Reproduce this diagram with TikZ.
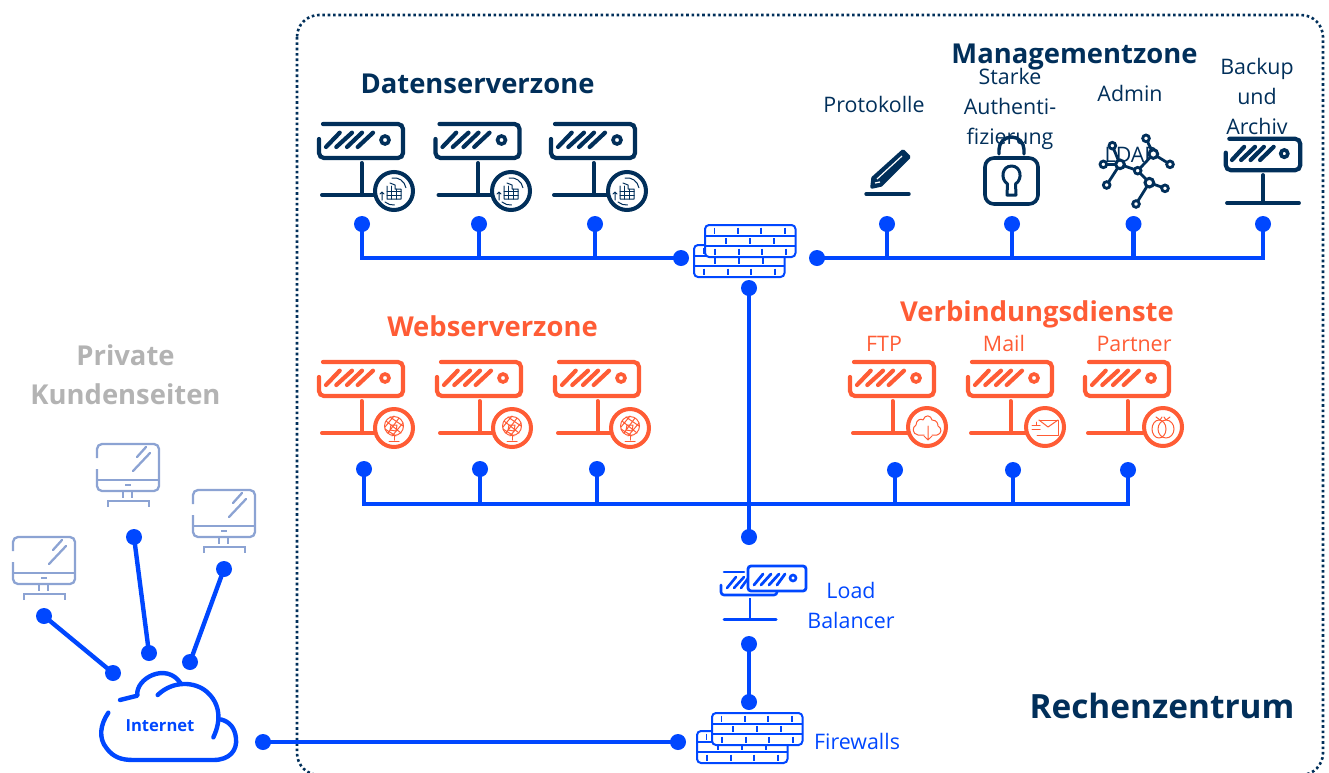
\documentclass[tikz,border=0pt]{standalone}
\usepackage{fontspec}
\setmainfont{Open Sans}
\definecolor{navy}{HTML}{012F5A}
\definecolor{orng}{HTML}{FF5C35}
\definecolor{netblue}{HTML}{0047FF}
\definecolor{greyt}{HTML}{B3B3B3}
\definecolor{mon}{HTML}{8CA3D3}
\tikzset{
  txt/.style={inner sep=0pt,align=center,font=\fontsize{21.4}{30}\selectfont},
  title/.style={inner sep=0pt,align=center,font=\fontsize{27.4}{39}\selectfont\bfseries},
  dot/.style={circle,fill=netblue,draw=none,inner sep=0pt,minimum size=16pt},
  conn/.style={draw=netblue,line width=4.4pt,line join=miter},
  ico/.style={line width=3.4pt,line cap=round,line join=round},
  tiny/.style={line width=1pt,line cap=round,line join=round},
}
% server box body
\newcommand{\srvbody}[1]{%
  \draw[#1,line width=4.2pt,line cap=round,rounded corners=5pt] (2,17)--(2,36)--(86,36)--(86,2)--(6,2);
  \foreach \a/\b in {9/22.7,19.3/35,30/45,40.7/56}{\draw[#1,line width=4.2pt,line cap=round] (\a,25)--(\b,10.7);}
  \draw[#1,line width=3.6pt] (68,18) circle (4);
}
% server with badge: x,y,colour,badge dx,badge dy,icon
\newcommand{\srv}[6]{%
  \begin{scope}[shift={(#1,#2)}]
    \srvbody{#3}
    \draw[#3,ico,line width=4pt] (44.5,41)--(44.5,73);
    \draw[#3,ico,line width=4pt] (5,73)--(60,73);
    \begin{scope}[shift={(#4,#5)}]
      \draw[#3,line width=4pt,fill=white] (0,0) circle (19);
      #6
    \end{scope}
  \end{scope}}
\newcommand{\dbicon}{%
  \draw[navy,tiny] (-7,-5)--(-7,8)--(7,8)--(7,-2)--(1,-2)--(1,-6)--(-4,-8);
  \draw[navy,tiny] (-7,0)--(7,0) (-7,4)--(7,4) (-3,-5)--(-3,8) (2,-2)--(2,8);
  \draw[navy,tiny] (-12,9)--(-12,1) (-14,3)--(-12,1)--(-10,3);
  \draw[navy,tiny] (-2,-13) arc (260:350:12);
  \draw[navy,tiny] (-9,11) arc (130:85:13);}
\newcommand{\globeicon}{%
  \draw[orng,tiny] (0,-2) circle (9.5);
  \draw[orng,tiny] (-8,-7)--(7,5) (-4,-11)--(9,-2) (-9,1)--(2,8) (5,-10)--(-6,5) (0,-12)--(-9,-1) (9,-5)--(-2,8);
  \draw[orng,tiny] (-3,-3)--(3,-3)--(2,3)--(-4,2)--cycle;
  \draw[orng,tiny] (0,8)--(0,12) (-5,13)--(5,13);}
\newcommand{\cloudicon}{%
  \draw[orng,tiny] (-3,8)--(-9,8) .. controls (-15,7) and (-15,0) .. (-11,-2) .. controls (-11,-7) and (-6,-9) .. (-4,-7) .. controls (-2,-13) and (4,-12) .. (5,-7) .. controls (10,-7) and (11,-3) .. (11,-1) .. controls (15,1) and (15,7) .. (10,8)--(5,8);
  \draw[orng,tiny] (1,-1)--(1,13) (-3,9)--(1,13)--(5,9);}
\newcommand{\mailicon}{%
  \draw[orng,tiny] (-6,-7)--(13,-7)--(13,8)--(-8,8);
  \draw[orng,tiny] (-6,-7)--(3,0)--(13,-7);
  \draw[orng,tiny] (-13,-2)--(-5,-2) (-13,2)--(-5,2) (-9,-5)--(-9,-2);}
\newcommand{\bagicon}{%
  \draw[orng,tiny] (-4,2) ellipse (7 and 9);
  \draw[orng,tiny] (3,2) ellipse (8 and 9);
  \draw[orng,tiny] (-7,-10)--(-3,-7)--(-1,-10) (1,-10)--(3,-7)--(7,-10);}
% firewall one block
\newcommand{\brick}[2]{%
  \begin{scope}[shift={(#1,#2)}]
    \draw[netblue,line width=2pt,fill=white,rounded corners=4pt] (0,0) rectangle (90.5,32);
    \draw[netblue,line width=2pt] (0,10.6)--(90.5,10.6) (0,21.3)--(90.5,21.3);
    \foreach \a in {9.5,33,56,80}{\draw[netblue,line width=1.7pt] (\a,2.5)--(\a,8.5);}
    \foreach \a in {21,45,69}{\draw[netblue,line width=1.7pt] (\a,13)--(\a,19);}
    \foreach \a in {10,34,57,81}{\draw[netblue,line width=1.7pt] (\a,23.5)--(\a,29.5);}
  \end{scope}}
\newcommand{\monitor}[2]{%
  \begin{scope}[shift={(#1,#2)},mon,line width=2.3pt]
    \draw[rounded corners=5pt] (0,14)--(0,0)--(62,0)--(62,47)--(0,47)--(0,25);
    \draw (0,36)--(62,36);
    \draw (28,41)--(34,41);
    \draw (26,47)--(26,54) (35,47)--(35,54);
    \draw (11,63)--(11,57)--(52,57)--(52,63);
    \draw[line cap=round] (40,13)--(49,3) (36,27)--(53,9);
  \end{scope}}
\begin{document}
\begin{tikzpicture}[x=1pt,y=-1pt]
\useasboundingbox (0,0) rectangle (1329,772);
% frame
\begin{scope}
  \clip (0,0) rectangle (1329,772);
  \draw[navy,line width=2.6pt,dash pattern=on 2.6pt off 2.75pt,rounded corners=22pt] (297,15) rectangle (1323,775);
\end{scope}
% titles
\node[title,text=navy] (tDaten) at (477.5,84) {Datenserverzone};
\node[title,text=navy] (tMgmt) at (1074.5,57) {Managementzone};
\node[title,text=orng] (tWeb) at (492.5,326) {Webserverzone};
\node[title,text=orng] (tVerb) at (1037,314) {Verbindungsdienste};
\node[title,text=greyt] (tPriv) at (125.5,375) {Private\\Kundenseiten};
\node[title,text=navy,font=\fontsize{33.4}{39}\selectfont\bfseries] (tRZ) at (1162,706) {Rechenzentrum};
% labels
\node[txt,text=navy] (lProt) at (874,104) {Protokolle};
\node[txt,text=navy] (lStark) at (1010,109) {Starke\\Authenti-\\fizierung};
\node[txt,text=navy] (lAdmin) at (1130,93) {Admin};
\node[txt,text=navy] (lBack) at (1257,96) {Backup\\und\\Archiv};
\node[txt,text=navy] (lLdap) at (1131,155) {LDAP};
\node[txt,text=orng] (lFtp) at (884,343.5) {FTP};
\node[txt,text=orng] (lMail) at (1004,343.5) {Mail};
\node[txt,text=orng] (lPart) at (1134,344) {Partner};
\node[txt,text=netblue] (lLB) at (851,605) {Load\\Balancer};
\node[txt,text=netblue] (lFw) at (857,741.5) {Firewalls};
% Daten servers
\srv{317}{122}{navy}{77}{69}{\dbicon}
\srv{433.5}{122}{navy}{77.5}{69}{\dbicon}
\srv{549}{122}{navy}{78}{69}{\dbicon}
% Web servers
\srv{317}{360}{orng}{77}{68}{\globeicon}
\srv{435}{360}{orng}{77}{68}{\globeicon}
\srv{553}{360}{orng}{77}{68}{\globeicon}
% connection servers
\srv{848}{360}{orng}{79}{67}{\cloudicon}
\srv{966}{360}{orng}{79}{67}{\mailicon}
\srv{1083}{360}{orng}{80}{67}{\bagicon}
% pencil
\draw[navy,ico,fill=navy] (872,187)--(873,178)--(903,151)--(909,157)--(881,185)--cycle;
\draw[white,line width=1.2pt] (877,179)--(902,156) (875,183)--(880,182);
\draw[navy,ico] (866,194)--(909,194);
% lock
\draw[navy,ico,line width=3.6pt,rounded corners=9pt] (985,158) rectangle (1038,204);
\draw[navy,ico] (999,154)--(999,149.5) arc (180:360:12.5)--(1024,154);
\draw[navy,ico,line width=3pt] (1007,195)--(1016,195)--(1015.5,184) .. controls (1023,179) and (1021,166) .. (1011.5,166) .. controls (1002,166) and (1000,179) .. (1007.5,184)--cycle;
% LDAP network
\begin{scope}[shift={(1090,130)},xscale=1/3,yscale=1/3]
  \foreach \a/\b/\c/\d in {168/25/190/72,67/47/90/103,40/103/90/103,190/72/240/103,190/72/143/122,90/103/143/122,90/103/50/165,143/122/178/158,178/158/225/175,178/158/138/222}{
    \draw[navy,line width=2.8pt] (\a,\b)--(\c,\d);}
  \foreach \a/\b in {168/25,67/47,40/103,240/103,50/165,225/175,138/222,143/122}{
    \draw[navy,line width=2.8pt,fill=white] (\a,\b) circle (10);}
  \foreach \a/\b in {190/72,90/103,178/158}{
    \draw[navy,line width=3pt,fill=white] (\a,\b) circle (13);}
\end{scope}
% backup server
\begin{scope}[shift={(1224,137)},xscale=78/88,yscale=35/38]
  \srvbody{navy}
\end{scope}
\draw[navy,ico,line width=3.8pt] (1263,175)--(1263,203);
\draw[navy,ico,line width=3.8pt] (1227,203)--(1299,203);
% firewalls
\brick{694}{245}\brick{705}{225}
\brick{697}{731}\brick{712}{713}
% load balancer
\draw[netblue,line width=2.6pt,line cap=round,rounded corners=3pt] (721,585)--(721,595)--(777,595)--(777,591);
\draw[netblue,line width=2.6pt,line cap=round] (724,572)--(744,572);
\foreach \a/\b in {727/736,734/744,741/749}{\draw[netblue,line width=2.6pt,line cap=round] (\a,588)--(\b,577);}
\draw[netblue,line width=2.8pt,fill=white,rounded corners=3pt] (748,566) rectangle (806,591);
\foreach \a/\b in {754/763,761/771,769/779,777/785}{\draw[netblue,line width=2.8pt,line cap=round] (\a,585)--(\b,574);}
\draw[netblue,line width=2.6pt] (793,578) circle (3);
\draw[netblue,line width=2.6pt] (750,598)--(750,619);
\draw[netblue,line width=3pt,line cap=round] (724,619)--(776,619);
% monitors
\monitor{13}{537}\monitor{97}{444}\monitor{193}{490}
% cloud
\begin{scope}[shift={(0,430)},xscale=1/3,yscale=1/3]
  \draw[netblue,line width=4.4pt,line cap=round,line join=round] (325,848) .. controls (300,885) and (295,925) .. (320,955) .. controls (340,982) and (365,990) .. (400,990)--(640,990) .. controls (690,990) and (712,960) .. (708,925) .. controls (705,895) and (690,875) .. (662,868);
  \draw[netblue,line width=4.4pt,line cap=round,line join=round] (640,922) .. controls (665,870) and (660,820) .. (620,785) .. controls (585,755) and (520,750) .. (473,795);
  \draw[netblue,line width=4.4pt,line cap=round,line join=round] (360,810)--(412,797) .. controls (405,745) and (500,695) .. (542,760);
\end{scope}
\node[inner sep=0pt,text=netblue,font=\fontsize{16.6}{18}\selectfont\bfseries] (lNet) at (160,726) {Internet};
% connectors
\node[dot] (d1) at (362,224) {};
\node[dot] (d2) at (479,224) {};
\node[dot] (d3) at (595,224) {};
\node[dot] (fwL) at (681,258) {};
\node[dot] (fwR) at (817,258) {};
\node[dot] (m1) at (887,224) {};
\node[dot] (m2) at (1012,224) {};
\node[dot] (m3) at (1133.5,224) {};
\node[dot] (m4) at (1263,224) {};
\node[dot] (fwB) at (749,288) {};
\node[dot] (w1) at (364,469) {};
\node[dot] (w2) at (480,469) {};
\node[dot] (w3) at (597,469) {};
\node[dot] (w4) at (895,470) {};
\node[dot] (w5) at (1013,470) {};
\node[dot] (w6) at (1128,470) {};
\node[dot] (hub) at (749,537) {};
\node[dot] (lbB) at (749,644) {};
\node[dot] (fw2T) at (749,702) {};
\node[dot] (fw2L) at (678,742) {};
\node[dot] (netR) at (263,742) {};
\node[dot] (c1) at (44,616) {};
\node[dot] (c2) at (134,537) {};
\node[dot] (c3) at (224,569) {};
\node[dot] (n1) at (113,673) {};
\node[dot] (n2) at (149,653) {};
\node[dot] (n3) at (190,662) {};
\coordinate (webbus) at (749,504);
\draw[conn] (d1.center) |- (fwL.center);
\draw[conn] (d2.center) -- (d2.center |- fwL.center);
\draw[conn] (d3.center) -- (d3.center |- fwL.center);
\draw[conn] (fwR.center) -| (m4.center);
\draw[conn] (m1.center) -- (m1.center |- fwR.center);
\draw[conn] (m2.center) -- (m2.center |- fwR.center);
\draw[conn] (m3.center) -- (m3.center |- fwR.center);
\draw[conn] (fwB.center) -- (hub.center);
\draw[conn] (w1.center) |- (webbus) -| (w6.center);
\draw[conn] (w2.center) -- (w2.center |- webbus);
\draw[conn] (w3.center) -- (w3.center |- webbus);
\draw[conn] (w4.center) -- (w4.center |- webbus);
\draw[conn] (w5.center) -- (w5.center |- webbus);
\draw[conn] (lbB.center) -- (fw2T.center);
\draw[conn] (netR.center) -- (fw2L.center);
\draw[conn] (c1.center) -- (n1.center);
\draw[conn] (c2.center) -- (n2.center);
\draw[conn] (c3.center) -- (n3.center);
\end{tikzpicture}
\end{document}
